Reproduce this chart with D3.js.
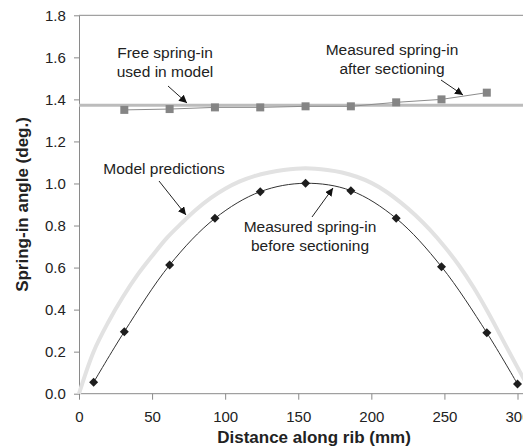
<!DOCTYPE html>
<html><head><meta charset="utf-8">
<script src="https://cdn.jsdelivr.net/npm/d3@7"></script>
<style>
html,body{margin:0;padding:0;background:#fff;}
svg{display:block;font-family:"Liberation Sans",Arial,sans-serif;}
</style></head>
<body>
<svg id="chart" width="523" height="447"></svg>
<script>
// Data
const beforeX = [10, 31, 62, 93, 124, 155, 186, 217, 248, 279, 300];
const beforeY = [0.054, 0.295, 0.612, 0.834, 0.961, 1.001, 0.966, 0.834, 0.604, 0.290, 0.046];
const afterX = [31, 62, 93, 124, 155, 186, 217, 248, 279];
const afterY = [1.350, 1.354, 1.362, 1.362, 1.367, 1.367, 1.386, 1.400, 1.432];
const modelX = [0, 10, 20, 30, 40, 50, 60, 70, 80, 90, 100, 110, 120, 130, 140, 155, 170, 180, 190, 200, 210, 220, 230, 240, 250, 260, 270, 280, 290, 300, 310];
const modelY = [0, 0.20, 0.34, 0.46, 0.565, 0.655, 0.74, 0.81, 0.875, 0.93, 0.975, 1.01, 1.035, 1.052, 1.064, 1.072, 1.064, 1.052, 1.032, 1.003, 0.962, 0.91, 0.85, 0.78, 0.70, 0.61, 0.505, 0.385, 0.255, 0.125, 0.0];
const freeSpringIn = 1.372;
const xTicks = [0, 50, 100, 150, 200, 250, 300];
const yTicks = [0.0, 0.2, 0.4, 0.6, 0.8, 1.0, 1.2, 1.4, 1.6, 1.8];

const W = 523, H = 447;
const svg = d3.select("#chart");
const x = d3.scaleLinear().domain([0, 300]).range([79, 517.5]);
const y = d3.scaleLinear().domain([0, 1.8]).range([393.7, 15.3]);
const axisColor = "#8a8a8a";
const textColor = "#222";

// Axes
const gx = svg.append("g").attr("transform", `translate(0,${y(0)})`)
  .call(d3.axisBottom(x).tickValues(xTicks).tickSize(6).tickSizeOuter(0).tickFormat(d3.format("d")));
gx.select(".domain").remove();
gx.selectAll(".tick line").attr("stroke", axisColor);
gx.selectAll(".tick text").attr("fill", textColor).attr("font-size", 15).attr("dy", "1.3em")
  .attr("font-family", "Liberation Sans, Arial, sans-serif");
svg.append("line").attr("x1", x(0)).attr("x2", W).attr("y1", y(0)).attr("y2", y(0)).attr("stroke", axisColor);
svg.append("line").attr("x1", x(0)).attr("x2", W).attr("y1", y(1.8)).attr("y2", y(1.8)).attr("stroke", axisColor);

const gy = svg.append("g").attr("transform", `translate(${x(0)},0)`)
  .call(d3.axisLeft(y).tickValues(yTicks).tickSize(5).tickSizeOuter(0).tickFormat(d3.format(".1f")));
gy.select(".domain").attr("stroke", axisColor);
gy.selectAll(".tick line").attr("stroke", axisColor);
gy.selectAll(".tick text").attr("fill", textColor).attr("font-size", 15).attr("dx", "-0.35em")
  .attr("font-family", "Liberation Sans, Arial, sans-serif");

// Axis titles
svg.append("text").attr("x", 314).attr("y", 443).attr("text-anchor", "middle")
  .attr("font-size", 17).attr("font-weight", "bold").attr("fill", textColor).text("Distance along rib (mm)");
svg.append("text").attr("transform", `translate(28,${(y(0) + y(1.8)) / 2}) rotate(-90)`).attr("text-anchor", "middle")
  .attr("font-size", 17).attr("font-weight", "bold").attr("fill", textColor).text("Spring-in angle (deg.)");

// Model predictions curve
const modelData = modelX.map((d, i) => [d, modelY[i]]);
svg.append("path").datum(modelData)
  .attr("d", d3.line().x(d => x(d[0])).y(d => y(d[1])).curve(d3.curveCatmullRom))
  .attr("fill", "none").attr("stroke", "#e2e2e2").attr("stroke-width", 4);

// Free spring-in line
svg.append("line").attr("x1", x(0)).attr("x2", W).attr("y1", y(freeSpringIn)).attr("y2", y(freeSpringIn))
  .attr("stroke", "#bcbcbc").attr("stroke-width", 3);

// After sectioning
const afterData = afterX.map((d, i) => [d, afterY[i]]);
svg.append("path").datum(afterData)
  .attr("d", d3.line().x(d => x(d[0])).y(d => y(d[1])))
  .attr("fill", "none").attr("stroke", "#8c8c8c").attr("stroke-width", 1);
svg.selectAll(".sq").data(afterData).enter().append("rect")
  .attr("x", d => x(d[0]) - 4).attr("y", d => y(d[1]) - 4).attr("width", 8).attr("height", 8)
  .attr("fill", "#858585");

// Before sectioning
const beforeData = beforeX.map((d, i) => [d, beforeY[i]]);
svg.append("path").datum(beforeData)
  .attr("d", d3.line().x(d => x(d[0])).y(d => y(d[1])).curve(d3.curveCatmullRom))
  .attr("fill", "none").attr("stroke", "#333").attr("stroke-width", 1);
svg.selectAll(".dm").data(beforeData).enter().append("path")
  .attr("transform", d => `translate(${x(d[0])},${y(d[1])})`)
  .attr("d", "M0,-4.5L4.5,0L0,4.5L-4.5,0Z").attr("fill", "#1e1e1e");

// Annotations
svg.append("defs").append("marker").attr("id", "ah").attr("viewBox", "0 0 10 10")
  .attr("refX", 10).attr("refY", 5).attr("markerWidth", 8).attr("markerHeight", 8)
  .attr("markerUnits", "userSpaceOnUse").attr("orient", "auto")
  .append("path").attr("d", "M0,0L10,5L0,10Z").attr("fill", "#111");

function label(lines, cx, y0) {
  lines.forEach((t, i) => svg.append("text").attr("x", cx).attr("y", y0 + i * 19)
    .attr("text-anchor", "middle").attr("font-size", 15.5).attr("fill", textColor).text(t));
}
function arrow(x1, y1, x2, y2) {
  svg.append("line").attr("x1", x1).attr("y1", y1).attr("x2", x2).attr("y2", y2)
    .attr("stroke", "#222").attr("stroke-width", 1).attr("marker-end", "url(#ah)");
}
label(["Free spring-in", "used in model"], 165, 58);
arrow(168, 86, 187, 103);
label(["Measured spring-in", "after sectioning"], 392, 55);
arrow(441, 80, 463, 95);
label(["Model predictions"], 164, 174);
arrow(159, 181, 186, 215);
label(["Measured spring-in", "before sectioning"], 310, 232);
arrow(312, 217, 333, 188);
</script>
</body></html>
